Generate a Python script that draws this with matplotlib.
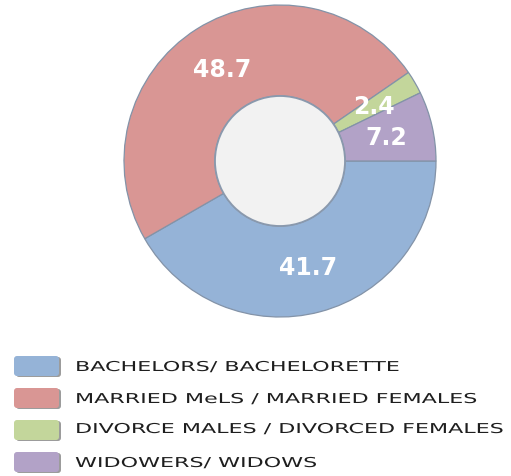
import matplotlib
matplotlib.use("Agg")
import matplotlib.pyplot as plt
from matplotlib.patches import Circle, FancyBboxPatch
from matplotlib.patheffects import AbstractPathEffect
from matplotlib.transforms import Affine2D

# ---- data ----
categories = [
    "BACHELORS/ BACHELORETTE",
    "MARRIED MeLS / MARRIED FEMALES",
    "DIVORCE MALES / DIVORCED FEMALES",
    "WIDOWERS/ WIDOWS",
]
values = [41.7, 48.7, 2.4, 7.2]
colors = ["#95B3D7", "#D99694", "#C3D69B", "#B2A2C7"]

W, H = 511, 477


class HStretch(AbstractPathEffect):
    """Stretch rendered text horizontally about its left anchor."""
    def __init__(self, sx, x0):
        super().__init__()
        self.sx = sx
        self.x0 = x0

    def draw_path(self, renderer, gc, tpath, affine, rgbFace=None):
        t = affine + Affine2D().translate(-self.x0, 0).scale(self.sx, 1).translate(self.x0, 0)
        renderer.draw_path(gc, tpath, t, rgbFace)


fig = plt.figure(figsize=(W / 100, H / 100), dpi=100)
fig.patch.set_facecolor("white")
ax = fig.add_axes([0, 0, 1, 1])
ax.set_xlim(0, W)
ax.set_ylim(0, H)
ax.axis("off")

cx, cy = 280, H - 162
R, r = 156, 65

wedges, texts, autotexts = ax.pie(
    values,
    colors=colors,
    startangle=0,
    counterclock=False,
    center=(cx, cy),
    radius=R,
    autopct=lambda p: f"{p:.1f}",
    pctdistance=0.70,
    wedgeprops=dict(width=R - r, edgecolor="#8393a8", linewidth=0.9),
    textprops=dict(color="white", fontsize=17, fontweight="bold", family="DejaVu Sans"),
)
ax.set_xlim(0, W)
ax.set_ylim(0, H)
ax.set_aspect("auto")

ax.add_patch(Circle((cx, cy), r, facecolor="#F2F2F2", edgecolor="#8a99ad", linewidth=1.3, zorder=3))

# ---- legend ----
row_y = [367, 399, 431, 463]
text_dy = [1, 1, -1, 1]
sw_x, sw_w, sw_h = 14, 45, 20
text_x = 75
legend_texts = []
for cat, col, yy, dy in zip(categories, colors, row_y, text_dy):
    yc = H - yy
    shadow = FancyBboxPatch((sw_x + 2, yc - sw_h / 2 - 1), sw_w, sw_h,
                            boxstyle="round,pad=0,rounding_size=3",
                            facecolor="#9c9c9c", edgecolor="none", zorder=2)
    ax.add_patch(shadow)
    sw = FancyBboxPatch((sw_x, yc - sw_h / 2), sw_w, sw_h,
                        boxstyle="round,pad=0,rounding_size=3",
                        facecolor=col, edgecolor="none", zorder=3)
    ax.add_patch(sw)
    t = ax.text(text_x, yc - dy, cat, ha="left", va="center", fontsize=9.8,
                color="#1e1e1e", family="DejaVu Sans")
    legend_texts.append(t)

renderer = fig.canvas.get_renderer()
nat = legend_texts[2].get_window_extent(renderer).width
sx = 430.0 / nat
for t in legend_texts:
    t.set_path_effects([HStretch(sx, text_x)])

fig.savefig("out.png", dpi=100, facecolor="white")
